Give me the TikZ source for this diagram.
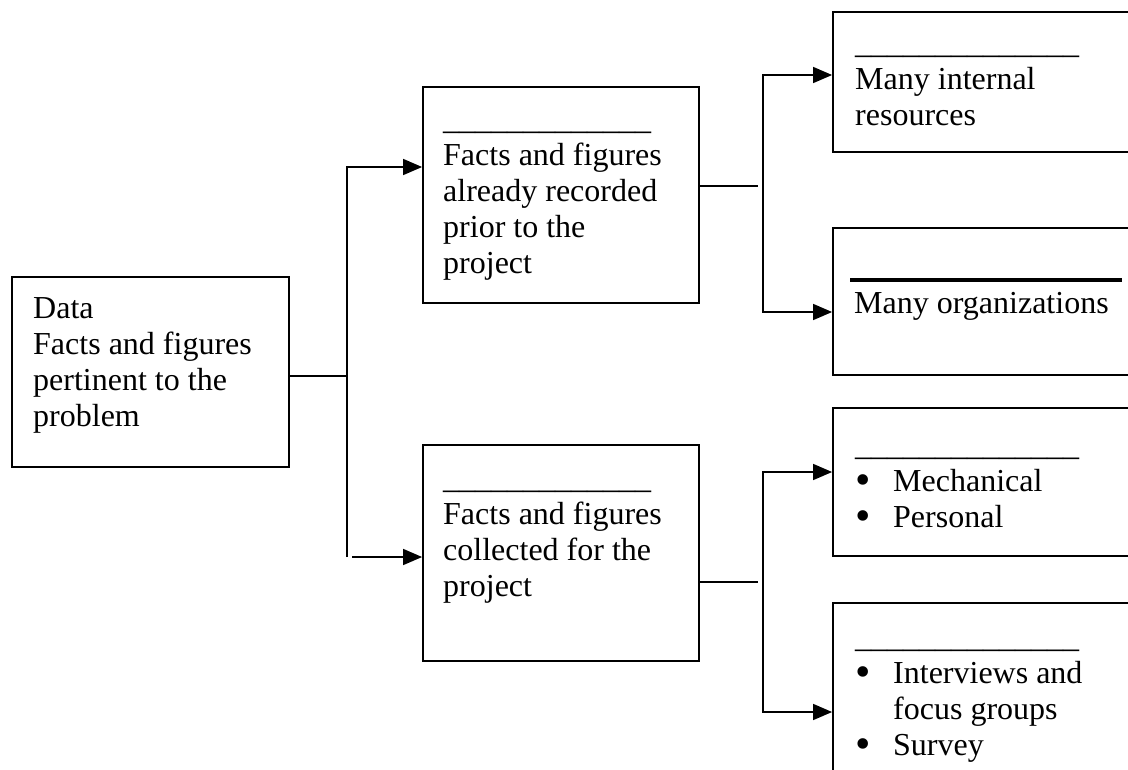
\documentclass[tikz,border=0pt]{standalone}
\usepackage{fontspec}
\setmainfont{Liberation Serif}
\usetikzlibrary{arrows.meta,calc}
\tikzset{
  box/.style={draw, line width=1.8pt, inner sep=0pt},
  txt/.style={anchor=base west, inner sep=0pt, font=\fontsize{32}{36}\selectfont},
  conn/.style={line width=1.5pt},
  tip/.tip={Triangle[length=19pt,width=16pt]},
  arr/.style={conn, -tip},
  darr/.style={conn, tip-tip}
}
% list bullet, a little larger and lower than the font's own
\newcommand\bul{\raisebox{-3pt}[0pt][0pt]{\fontsize{44}{36}\selectfont\textbullet}}
\begin{document}
\begin{tikzpicture}[x=1pt,y=-1pt]
  \useasboundingbox (0,0) rectangle (1128,769);
  \clip (0,0) rectangle (1128,769);
  \fill[white] (0,0) rectangle (1128,769);

  % boxes
  \node[box, minimum width=277pt, minimum height=190pt] (data) at (150.5,372) {};
  \node[box, minimum width=276pt, minimum height=216pt] (A) at (561,195) {};
  \node[box, minimum width=276pt, minimum height=216pt] (B) at (561,553) {};
  \node[box, minimum width=320pt, minimum height=140pt] (R1) at (993,82) {};
  \node[box, minimum width=320pt, minimum height=147pt] (R2) at (993,301.5) {};
  \node[box, minimum width=320pt, minimum height=148pt] (R3) at (993,482) {};
  \node[box, minimum width=320pt, minimum height=197pt] (R4) at (993,701.5) {};

  % texts
  \node[txt] (tdata) at (33,318) {\begin{tabular}[t]{@{}l@{}}
    Data\\ Facts and figures\\ pertinent to the\\ problem\end{tabular}};
  \node[txt] (tA) at (443,129) {\begin{tabular}[t]{@{}l@{}}
    \_\_\_\_\_\_\_\_\_\_\_\_\_\\ Facts and figures\\ already recorded\\
    prior to the\\ project\end{tabular}};
  \node[txt] (tB) at (443,488) {\begin{tabular}[t]{@{}l@{}}
    \_\_\_\_\_\_\_\_\_\_\_\_\_\\ Facts and figures\\ collected for the\\
    project\end{tabular}};
  \node[txt] (tR1) at (855,53) {\begin{tabular}[t]{@{}l@{}}
    \_\_\_\_\_\_\_\_\_\_\_\_\_\_\\ Many internal\\ resources\end{tabular}};
  \node[txt] (tR2) at (854,313) {Many organizations};
  \node[txt] (tR3) at (855,455) {\begin{tabular}[t]{@{}l@{}l@{}}
    \multicolumn{2}{@{}l@{}}{\_\_\_\_\_\_\_\_\_\_\_\_\_\_}\\
    \makebox[38pt][l]{\bul} & Mechanical\\
    \makebox[38pt][l]{\bul} & Personal\end{tabular}};
  \node[txt] (tR4) at (855,647) {\begin{tabular}[t]{@{}l@{}l@{}}
    \multicolumn{2}{@{}l@{}}{\_\_\_\_\_\_\_\_\_\_\_\_\_\_}\\
    \makebox[38pt][l]{\bul} & Interviews and\\
     & focus groups\\
    \makebox[38pt][l]{\bul} & Survey\end{tabular}};

  % heavy rule above the organizations label
  \draw[line width=4pt] (850,280) -- (1122,280);

  % connectors from the data box
  \coordinate (j) at (347,376);
  \coordinate (jt) at (347,167);
  \coordinate (jb) at (347,557);
  \coordinate (jb2) at (352,557);
  \draw[conn] (data.east |- j) -- (j);
  \draw[arr] (jb) -- (jt) -- (A.west |- jt);
  \draw[arr] (jb2) -- (B.west |- jb2);

  % connectors from the upper middle box
  \coordinate (ka) at (758,186);
  \coordinate (u1) at (763,75);
  \coordinate (u2) at (763,312);
  \draw[conn] (A.east |- ka) -- (ka);
  \draw[darr] (R1.west |- u1) -- (u1) -- (u2) -- (R2.west |- u2);

  % connectors from the lower middle box
  \coordinate (kb) at (758,582);
  \coordinate (v1) at (763,472);
  \coordinate (v2) at (763,712);
  \draw[conn] (B.east |- kb) -- (kb);
  \draw[darr] (R3.west |- v1) -- (v1) -- (v2) -- (R4.west |- v2);
\end{tikzpicture}
\end{document}
